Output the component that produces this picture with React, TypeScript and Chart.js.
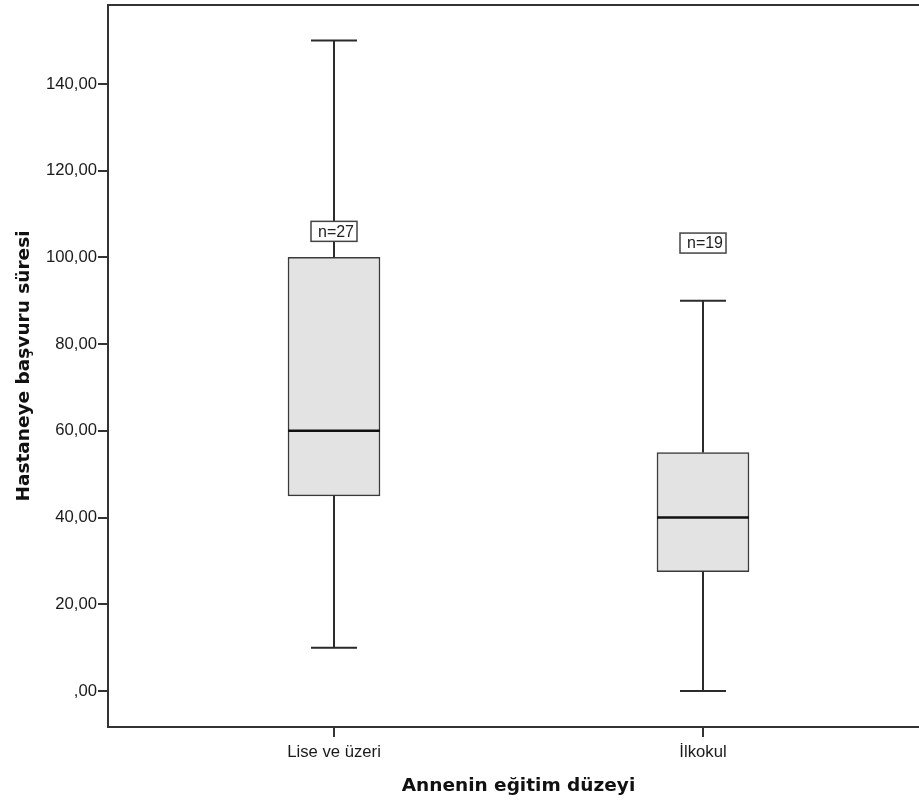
import React, { useEffect, useRef } from "react";
import { Chart, registerables } from "chart.js";

Chart.register(...registerables);

// ---- Data ----
const categories = ["Lise ve üzeri", "İlkokul"];
const positions = [0, 1];
const whiskerMin = [10, 0];
const q1Values = [45, 27.5];
const medianValues = [60, 40];
const q3Values = [100, 55];
const whiskerMax = [150, 90];
const nLabels = ["n=27", "n=19"];
const nLabelValues = [106, 103.3];
const yTickValues = [0, 20, 40, 60, 80, 100, 120, 140];

const yTitle = "Hastaneye başvuru süresi";
const xTitle = "Annenin eğitim düzeyi";

// ---- Style ----
const BOX_W = 92;
const CAP_W = 46;
const LINE = "#2b2b2b";
const TICK_FONT = "'Liberation Sans', Arial, sans-serif";
const TITLE_FONT = "bold 18.5px 'DejaVu Sans', sans-serif";

const fmt = (v: number) => (v === 0 ? ",00" : v.toFixed(2).replace(".", ","));

const boxPlugin = {
  id: "boxExtras",
  afterDatasetsDraw(chart: any) {
    const ctx = chart.ctx;
    const xs = chart.scales.x;
    const ys = chart.scales.y;
    ctx.save();
    ctx.strokeStyle = LINE;
    ctx.lineCap = "butt";
    positions.forEach((p, i) => {
      const cx = Math.round(xs.getPixelForValue(p));
      const yMin = ys.getPixelForValue(whiskerMin[i]);
      const yMax = ys.getPixelForValue(whiskerMax[i]);
      const yQ1 = ys.getPixelForValue(q1Values[i]);
      const yQ3 = ys.getPixelForValue(q3Values[i]);
      const yMed = ys.getPixelForValue(medianValues[i]);
      ctx.lineWidth = 2;
      ctx.beginPath();
      ctx.moveTo(cx, yQ3);
      ctx.lineTo(cx, yMax);
      ctx.moveTo(cx, yQ1);
      ctx.lineTo(cx, yMin);
      ctx.moveTo(cx - CAP_W / 2, yMax);
      ctx.lineTo(cx + CAP_W / 2, yMax);
      ctx.moveTo(cx - CAP_W / 2, yMin);
      ctx.lineTo(cx + CAP_W / 2, yMin);
      ctx.stroke();
      ctx.lineWidth = 2.5;
      ctx.strokeStyle = "#111";
      ctx.beginPath();
      ctx.moveTo(cx - BOX_W / 2, yMed);
      ctx.lineTo(cx + BOX_W / 2, yMed);
      ctx.stroke();
      ctx.strokeStyle = LINE;
      // n label
      const ly = ys.getPixelForValue(nLabelValues[i]);
      const lw = 46;
      const lh = 20;
      ctx.fillStyle = "#ffffff";
      ctx.fillRect(cx - lw / 2, ly - lh / 2, lw, lh);
      ctx.lineWidth = 1.5;
      ctx.strokeStyle = "#444";
      ctx.strokeRect(cx - lw / 2, ly - lh / 2, lw, lh);
      ctx.strokeStyle = LINE;
      ctx.fillStyle = "#222";
      ctx.font = `16px ${TICK_FONT}`;
      ctx.textAlign = "center";
      ctx.textBaseline = "middle";
      ctx.fillText(nLabels[i], cx + 2, ly + 1);
    });
    ctx.restore();
  },
  afterDraw(chart: any) {
    const ctx = chart.ctx;
    const a = chart.chartArea;
    ctx.save();
    ctx.strokeStyle = "#333";
    ctx.lineWidth = 2;
    ctx.strokeRect(a.left, a.top, a.right - a.left, a.bottom - a.top);
    ctx.fillStyle = "#111";
    ctx.font = TITLE_FONT;
    ctx.textAlign = "center";
    ctx.textBaseline = "alphabetic";
    ctx.fillText(xTitle, (a.left + a.right) / 2, 791);
    ctx.translate(29, (a.top + a.bottom) / 2);
    ctx.rotate(-Math.PI / 2);
    ctx.fillText(yTitle, 0, 0);
    ctx.restore();
  },
};

export default function App() {
  const ref = useRef<HTMLCanvasElement | null>(null);
  useEffect(() => {
    if (!ref.current) return;
    const chart = new Chart(ref.current, {
      type: "bar",
      data: {
        datasets: [
          {
            data: positions.map((p, i) => ({ x: p, y: [q1Values[i], q3Values[i]] })) as any,
            backgroundColor: "#e3e3e3",
            borderColor: "#3a3a3a",
            borderWidth: 1.5,
            borderSkipped: false,
            barThickness: BOX_W,
          },
        ],
      },
      options: {
        responsive: false,
        animation: false,
        events: [],
        layout: { padding: { top: 5, right: 1, left: 0, bottom: 0 } },
        plugins: { legend: { display: false }, tooltip: { enabled: false } },
        scales: {
          x: {
            type: "linear",
            min: -0.6125,
            max: 1.6125,
            offset: false,
            afterFit: (s: any) => {
              s.height = 76;
              s.paddingLeft = 0;
              s.paddingRight = 0;
            },
            afterBuildTicks: (s: any) => {
              s.ticks = positions.map((v) => ({ value: v }));
            },
            grid: {
              offset: false,
              drawOnChartArea: false,
              drawTicks: true,
              tickLength: 10,
              color: "#333",
              lineWidth: 2,
            },
            border: { display: false },
            ticks: {
              autoSkip: false,
              maxRotation: 0,
              padding: 5,
              color: "#1a1a1a",
              font: { family: TICK_FONT, size: 16.7 },
              callback: (v: any) => {
                const idx = positions.indexOf(Number(v));
                return idx >= 0 ? categories[idx] : "";
              },
            },
          },
          y: {
            type: "linear",
            min: -8.3,
            max: 158.2,
            afterFit: (s: any) => {
              s.width = 108;
              s.paddingTop = 0;
              s.paddingBottom = 0;
            },
            afterBuildTicks: (s: any) => {
              s.ticks = yTickValues.map((v) => ({ value: v }));
            },
            grid: {
              drawOnChartArea: false,
              drawTicks: true,
              tickLength: 10,
              color: "#333",
              lineWidth: 2,
            },
            border: { display: false },
            ticks: {
              padding: 1,
              color: "#1a1a1a",
              font: { family: TICK_FONT, size: 16.7 },
              callback: (v: any) => fmt(Number(v)),
            },
          },
        },
      },
      plugins: [boxPlugin],
    });
    return () => chart.destroy();
  }, []);
  return (
    <div
      style={{
        position: "absolute",
        left: 0,
        top: 0,
        width: 919,
        height: 803,
        overflow: "hidden",
        background: "#fff",
      }}
    >
      <canvas ref={ref} width={930} height={803} style={{ display: "block" }} />
    </div>
  );
}
